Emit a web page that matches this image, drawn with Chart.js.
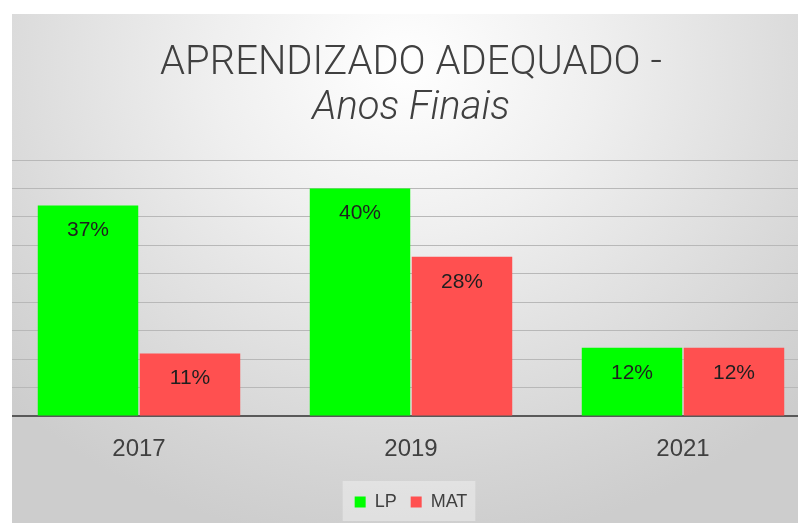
<!DOCTYPE html>
<html>
<head>
<meta charset="utf-8">
<script src="https://cdn.jsdelivr.net/npm/chart.js@4/dist/chart.umd.min.js"></script>
<style>
  html, body { margin: 0; padding: 0; background: #ffffff; overflow: hidden; }
  #wrap {
    position: absolute; left: 12px; top: 14px; width: 786px; height: 509px; overflow: hidden;
    background: radial-gradient(ellipse 70% 95% at 50% 10%, #ffffff 0%, #efefef 35%, #d4d4d4 85%, #cdcdcd 100%);
  }
  #c { position: absolute; left: -9px; top: 0; }
</style>
</head>
<body>
<div id="wrap"><canvas id="c" width="816" height="509"></canvas></div>
<script>
const categories = ['2017', '2019', '2021'];
const lpValues = [37, 40, 12];
const matValues = [11, 28, 12];
const seriesNames = ['LP', 'MAT'];
const titleLine1 = 'APRENDIZADO ADEQUADO -';
const titleLine2 = 'Anos Finais';

const dataLabels = {
  id: 'dataLabels',
  afterDatasetsDraw(chart) {
    const ctx = chart.ctx;
    ctx.save();
    ctx.font = '21px "Liberation Sans", Arial, sans-serif';
    ctx.fillStyle = '#1f1f1f';
    ctx.textAlign = 'center';
    ctx.textBaseline = 'middle';
    chart.data.datasets.forEach((ds, i) => {
      chart.getDatasetMeta(i).data.forEach((bar, j) => {
        ctx.fillText(ds.data[j] + '%', bar.x, bar.y + 25);
      });
    });
    ctx.restore();
  }
};

const legendBox = {
  id: 'legendBox',
  beforeDraw(chart) {
    const lg = chart.legend;
    if (!lg || !lg.legendHitBoxes || !lg.legendHitBoxes.length) return;
    const hb = lg.legendHitBoxes;
    let l = Infinity, r = -Infinity, t = Infinity, b = -Infinity;
    hb.forEach(h => { l = Math.min(l, h.left); r = Math.max(r, h.left + h.width); t = Math.min(t, h.top); b = Math.max(b, h.top + h.height); });
    const ctx = chart.ctx;
    ctx.save();
    ctx.fillStyle = 'rgba(255,255,255,0.35)';
    ctx.fillRect(l - 12, t - 12, (r - l) + 20, (b - t) + 22);
    ctx.restore();
  }
};

new Chart(document.getElementById('c'), {
  type: 'bar',
  data: {
    labels: categories,
    datasets: [
      { label: seriesNames[0], data: lpValues, backgroundColor: '#00ff00', borderWidth: 0 },
      { label: seriesNames[1], data: matValues, backgroundColor: '#ff5050', borderWidth: 0 }
    ]
  },
  options: {
    responsive: false,
    animation: false,
    devicePixelRatio: 1,
    layout: { padding: { left: 0, right: 0, top: 0, bottom: 2 } },
    datasets: { bar: { categoryPercentage: 0.75, barPercentage: 0.985 } },
    plugins: {
      title: {
        display: true,
        text: titleLine1,
        color: '#404040',
        font: { family: 'Roboto', size: 40, weight: '300', lineHeight: 1 },
        padding: { top: 30, bottom: 5 }
      },
      subtitle: {
        display: true,
        text: titleLine2,
        color: '#404040',
        font: { family: 'Roboto', size: 40, weight: '300', style: 'italic', lineHeight: 1 },
        padding: { top: 0, bottom: 31 }
      },
      legend: {
        position: 'bottom',
        labels: {
          boxWidth: 11, boxHeight: 11, padding: 14,
          color: '#404040',
          font: { family: 'Liberation Sans', size: 18 }
        }
      },
      tooltip: { enabled: false }
    },
    scales: {
      x: {
        grid: { display: false, drawTicks: false },
        border: { display: true, color: '#595959', width: 2 },
        ticks: { color: '#404040', padding: 19, font: { family: 'Liberation Sans', size: 24 } },
        afterFit(axis) { axis.height = 63; }
      },
      y: {
        min: 0, max: 45,
        ticks: { display: false, stepSize: 5 },
        grid: { color: '#b8b8b8', lineWidth: 1, drawTicks: false },
        border: { display: false },
        afterFit(axis) { axis.width = 0; }
      }
    }
  },
  plugins: [legendBox, dataLabels]
});
</script>
</body>
</html>
